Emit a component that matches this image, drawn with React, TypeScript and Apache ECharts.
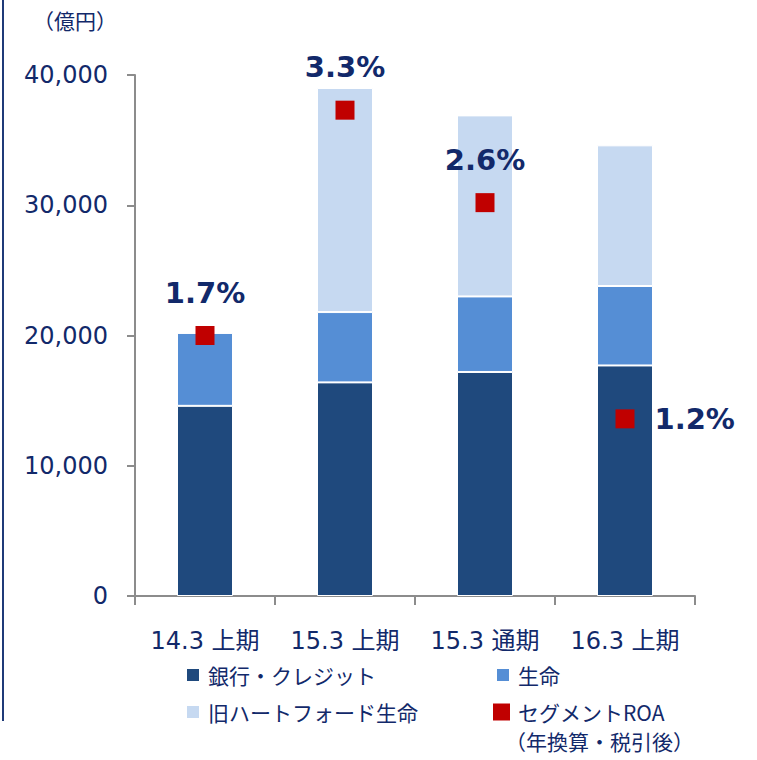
import React, { useEffect, useRef } from "react";
import * as echarts from "echarts";

const categories = ["14.3 上期", "15.3 上期", "15.3 通期", "16.3 上期"];
const bankCredit = [14600, 16400, 17200, 17700];
const life = [5600, 5400, 5800, 6100];
const hartford = [0, 17200, 13900, 10800];
const roaPosition = [20000, 37300, 30200, 13600];
const roaLabels = ["1.7%", "3.3%", "2.6%", "1.2%"];
const yTicks = [0, 10000, 20000, 30000, 40000];

const NAVY = "#12296a";
const FONT = "'DejaVu Sans', 'Noto Sans CJK JP', sans-serif";
const JFONT = "'Noto Sans CJK JP', sans-serif";

function legendItem(name: string, left: number, top: number, size: number) {
  return {
    left,
    top,
    padding: 0,
    itemWidth: size,
    itemHeight: size,
    icon: "rect",
    textStyle: { color: NAVY, fontSize: 21, lineHeight: 24, fontFamily: JFONT, padding: [0, 0, 0, 3] },
    data: [name],
  };
}

export default function App() {
  const ref = useRef<HTMLDivElement>(null);
  useEffect(() => {
    if (!ref.current) return;
    const chart = echarts.init(ref.current, null, { renderer: "svg" });
    const barStyle = (color: string) => ({ color, borderColor: "#ffffff", borderWidth: 1 });
    chart.setOption({
      animation: false,
      backgroundColor: "#ffffff",
      grid: { left: 135, right: 62, top: 75, bottom: 164 },
      xAxis: {
        type: "category",
        data: categories,
        axisLine: { lineStyle: { color: "#8c8c8c", width: 2 } },
        axisTick: { show: true, interval: 0, alignWithLabel: false, length: 9, lineStyle: { color: "#8c8c8c", width: 2 } },
        axisLabel: { interval: 0, color: NAVY, fontSize: 24, fontFamily: FONT, margin: 33, hideOverlap: false },
      },
      yAxis: {
        type: "value",
        min: yTicks[0],
        max: yTicks[yTicks.length - 1],
        interval: 10000,
        splitLine: { show: false },
        axisLine: { show: true, lineStyle: { color: "#8c8c8c", width: 2 } },
        axisTick: { show: true, length: 8, lineStyle: { color: "#8c8c8c", width: 2 } },
        axisLabel: {
          color: NAVY,
          fontSize: 24,
          fontFamily: FONT,
          margin: 27,
          formatter: (v: number) => v.toLocaleString("en-US"),
        },
      },
      legend: [
        legendItem("銀行・クレジット", 185, 663, 14),
        legendItem("旧ハートフォード生命", 185, 700, 14),
        legendItem("生命", 495, 663, 14),
        legendItem("セグメントROA", 493, 700, 17),
      ],
      graphic: [
        {
          type: "line",
          shape: { x1: 3, y1: 0, x2: 3, y2: 721 },
          style: { stroke: "#1f3a78", lineWidth: 2 },
        },
        {
          type: "text",
          left: 33,
          top: 9,
          style: { text: "（億円）", fill: NAVY, fontSize: 21, fontFamily: JFONT },
        },
        {
          type: "text",
          left: 505,
          top: 730,
          style: { text: "（年換算・税引後）", fill: NAVY, fontSize: 21, fontFamily: JFONT },
        },
      ],
      series: [
        {
          name: "銀行・クレジット",
          type: "bar",
          stack: "total",
          barWidth: 56,
          data: bankCredit,
          itemStyle: barStyle("#1f497d"),
        },
        {
          name: "生命",
          type: "bar",
          stack: "total",
          data: life,
          itemStyle: barStyle("#558ed5"),
        },
        {
          name: "旧ハートフォード生命",
          type: "bar",
          stack: "total",
          data: hartford,
          itemStyle: barStyle("#c6d9f1"),
        },
        {
          name: "セグメントROA",
          type: "scatter",
          symbol: "rect",
          symbolSize: 19,
          z: 5,
          itemStyle: { color: "#c00000", opacity: 1 },
          data: roaPosition.map((v, i) => ({
            value: v,
            label: {
              show: true,
              formatter: roaLabels[i],
              position: i === 3 ? "right" : "top",
              distance: i === 3 ? 20 : 19,
              color: NAVY,
              fontSize: 29,
              fontWeight: "bold",
              fontFamily: FONT,
            },
          })),
        },
      ],
    });
    return () => chart.dispose();
  }, []);
  return (
    <div
      ref={ref}
      style={{ position: "absolute", left: 0, top: 0, width: 757, height: 760 }}
    />
  );
}
